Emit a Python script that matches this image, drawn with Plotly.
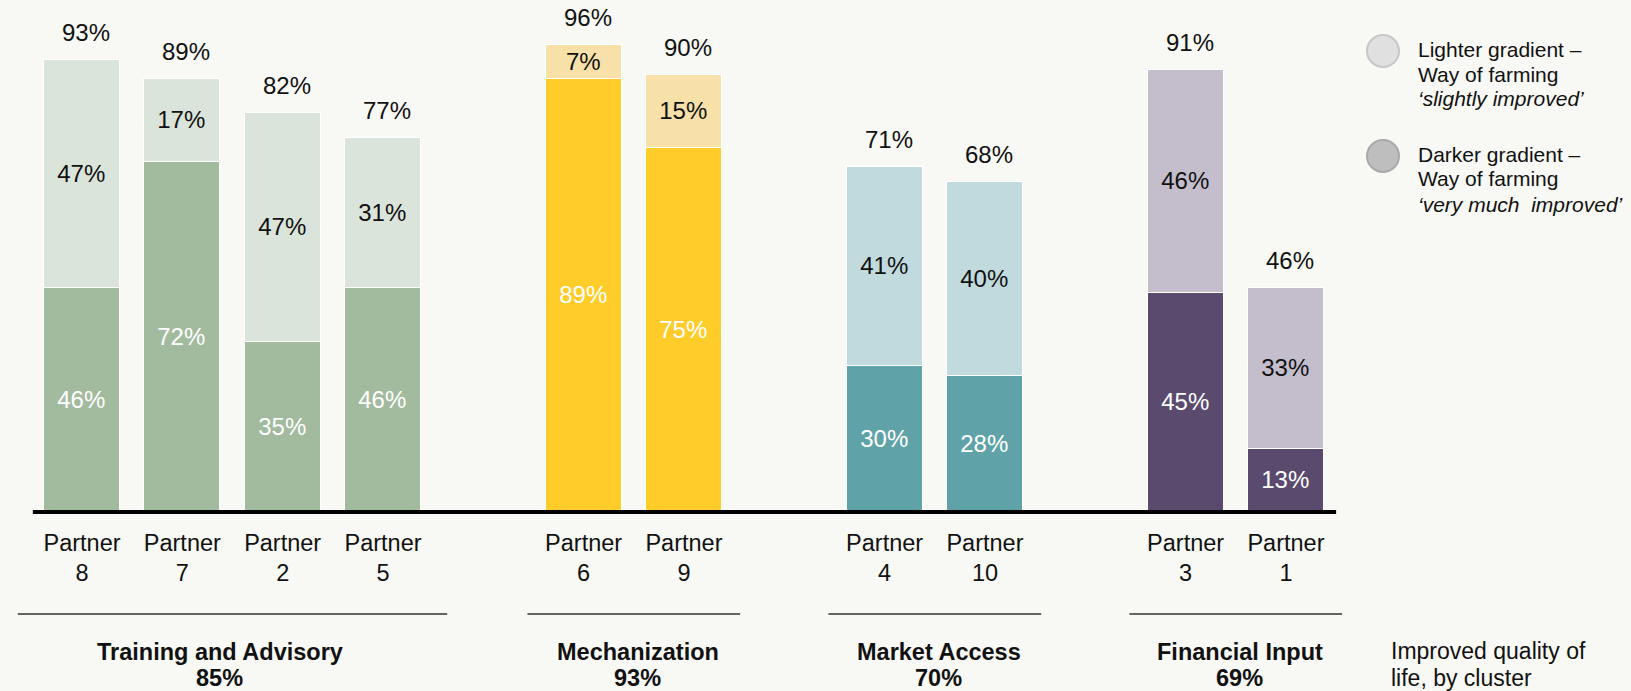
import plotly.graph_objects as go

# ---------------- data ----------------
partners = ["Partner 8", "Partner 7", "Partner 2", "Partner 5", "Partner 6",
            "Partner 9", "Partner 4", "Partner 10", "Partner 3", "Partner 1"]
partner_cluster = (["Training and Advisory"] * 4 + ["Mechanization"] * 2 +
                   ["Market Access"] * 2 + ["Financial Input"] * 2)
very_much_improved = [46, 72, 35, 46, 89, 75, 30, 28, 45, 13]
slightly_improved = [47, 17, 47, 31, 7, 15, 41, 40, 46, 33]
total_improved = [93, 89, 82, 77, 96, 90, 71, 68, 91, 46]
clusters = ["Training and Advisory", "Mechanization", "Market Access", "Financial Input"]
cluster_quality_of_life = [85, 93, 70, 69]

# ---------------- style ----------------
dark_colors = {"Training and Advisory": "#A2BA9E", "Mechanization": "#FFCC2A",
               "Market Access": "#5FA3A8", "Financial Input": "#5A4A6E"}
light_colors = {"Training and Advisory": "#DAE4DA", "Mechanization": "#F8E1A8",
                "Market Access": "#C1DADD", "Financial Input": "#C4BECC"}
FONT = "Liberation Sans, Arial, Helvetica, sans-serif"
BG = "#F8F8F4"
W, H = 1631, 691
PLOT_BOTTOM = 512  # px from top where y=0 sits

# slot positions: one empty slot between clusters
slots = []
s = 0
prev = None
for c in partner_cluster:
    if prev is not None and c != prev:
        s += 1
    slots.append(s)
    s += 1
    prev = c

X0 = -82 / 100.33
X1 = (W - 82) / 100.33
YTOP = PLOT_BOTTOM / 4.86


def px2paper(px):
    return px / W


def py2paper(py):
    return (PLOT_BOTTOM - py) / PLOT_BOTTOM


fig = go.Figure()
fig.add_trace(go.Bar(
    x=slots, y=very_much_improved, width=0.76,
    marker=dict(color=[dark_colors[c] for c in partner_cluster],
                line=dict(color="white", width=1.5)),
    text=[f"{v}%" for v in very_much_improved],
    textposition="inside", insidetextanchor="middle", textangle=0,
    constraintext="none",
    textfont=dict(family=FONT, size=24, color="white"),
    hoverinfo="skip", showlegend=False,
))
fig.add_trace(go.Bar(
    x=slots, y=slightly_improved, width=0.76,
    marker=dict(color=[light_colors[c] for c in partner_cluster],
                line=dict(color="white", width=1.5)),
    text=[f"{v}%" for v in slightly_improved],
    textposition="inside", insidetextanchor="middle", textangle=0,
    constraintext="none",
    textfont=dict(family=FONT, size=24, color="#111111"),
    hoverinfo="skip", showlegend=False,
))

annotations = []
# totals above bars
for xs, t in zip(slots, total_improved):
    annotations.append(dict(x=xs, y=t, xref="x", yref="y", text=f"{t}%",
                            showarrow=False, yanchor="bottom", xanchor="center",
                            yshift=12, xshift=4,
                            font=dict(family=FONT, size=24, color="#111111")))

shapes = []
# baseline
shapes.append(dict(type="line", xref="x", yref="paper", x0=min(slots) - 0.49,
                   x1=max(slots) + 0.5, y0=0, y1=0,
                   line=dict(color="black", width=4), layer="above"))

# cluster dividers and labels
for c, q in zip(clusters, cluster_quality_of_life):
    cs = [sl for sl, pc in zip(slots, partner_cluster) if pc == c]
    pad = 0.64 if len(cs) > 2 else 0.56
    shapes.append(dict(type="line", xref="x", yref="paper",
                       x0=min(cs) - pad, x1=max(cs) + pad,
                       y0=py2paper(614), y1=py2paper(614),
                       line=dict(color="#333333", width=1.5)))
    cx = (min(cs) + max(cs)) / 2
    xs = -13 if len(cs) > 2 else 4
    annotations.append(dict(x=cx, y=py2paper(652), xref="x", yref="paper",
                            text=f"<b>{c}</b>", showarrow=False, xshift=xs,
                            yanchor="middle", xanchor="center",
                            font=dict(family=FONT, size=23.5, color="#111111")))
    annotations.append(dict(x=cx, y=py2paper(678), xref="x", yref="paper",
                            text=f"<b>{q}%</b>", showarrow=False, xshift=xs,
                            yanchor="middle", xanchor="center",
                            font=dict(family=FONT, size=23.5, color="#111111")))

# right-side caption
for txt, py in [("Improved quality of", 651), ("life, by cluster", 678)]:
    annotations.append(dict(x=px2paper(1389), y=py2paper(py), xref="paper", yref="paper",
                            text=txt, showarrow=False, xanchor="left", yanchor="middle",
                            font=dict(family=FONT, size=23, color="#111111")))

# legend
legend_items = [
    (51, "#DFE0DF", "#C6C7C6", ["Lighter gradient –", "Way of farming",
                                "<i>\u2018slightly improved\u2019</i>"], [49, 74, 98]),
    (156, "#BEBEBE", "#A9A9A9", ["Darker gradient –", "Way of farming",
                                 "<i>\u2018very much\u00a0 improved\u2019</i>"], [154, 178, 204]),
]
for cy, fill, edge, lines, ys in legend_items:
    shapes.append(dict(type="circle", xref="paper", yref="paper",
                       x0=px2paper(1383 - 16), x1=px2paper(1383 + 16),
                       y0=py2paper(cy + 16), y1=py2paper(cy - 16),
                       fillcolor=fill, line=dict(color=edge, width=2)))
    for txt, py in zip(lines, ys):
        annotations.append(dict(x=px2paper(1416), y=py2paper(py), xref="paper", yref="paper",
                                text=txt, showarrow=False, xanchor="left", yanchor="middle",
                                font=dict(family=FONT, size=21, color="#111111")))

fig.update_layout(
    width=W, height=H,
    barmode="stack", bargap=0,
    paper_bgcolor=BG, plot_bgcolor=BG,
    margin=dict(l=0, r=0, t=0, b=H - PLOT_BOTTOM),
    xaxis=dict(range=[X0, X1], tickvals=slots,
               ticktext=[p.replace(" ", "<br>") for p in partners],
               tickfont=dict(family=FONT, size=23.5, color="#111111"),
               ticklabelstandoff=14,
               showgrid=False, zeroline=False, showline=False, ticks="",
               fixedrange=True),
    yaxis=dict(range=[0, YTOP], visible=False, showgrid=False, zeroline=False,
               fixedrange=True),
    shapes=shapes, annotations=annotations,
    showlegend=False,
)

fig.write_html(
    "out.html",
    config={"displayModeBar": False},
    post_script="document.body.style.margin='0';document.body.style.padding='0';"
                "document.body.style.overflow='hidden';"
                "document.body.style.background='" + BG + "';",
)
